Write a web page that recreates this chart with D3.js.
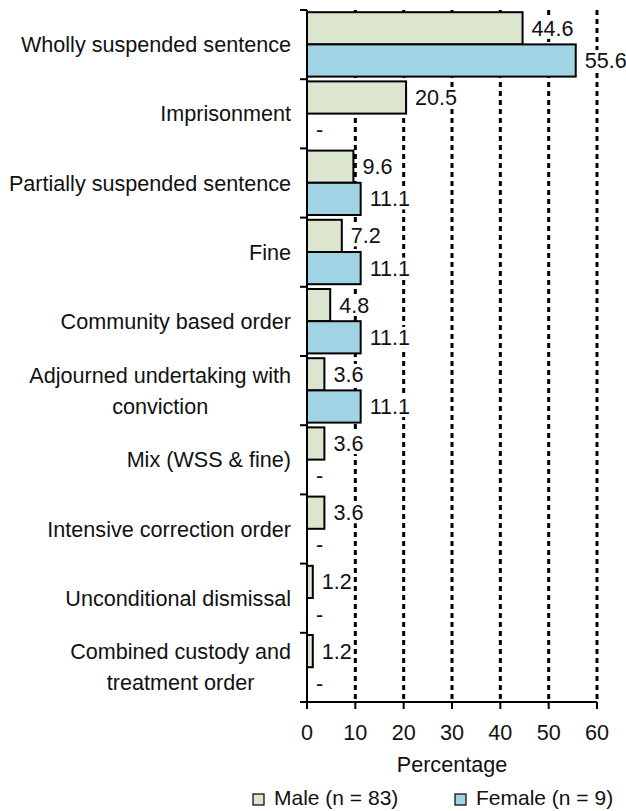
<!DOCTYPE html>
<html>
<head>
<meta charset="utf-8">
<script src="https://cdn.jsdelivr.net/npm/d3@7"></script>
<style>
  body { margin: 0; background: #fff; }
  svg text { font-family: "Liberation Sans", Arial, sans-serif; fill: #111; }
</style>
</head>
<body>
<svg id="chart" width="626" height="811"></svg>
<script>
const categories = [
  ["Wholly suspended sentence"],
  ["Imprisonment"],
  ["Partially suspended sentence"],
  ["Fine"],
  ["Community based order"],
  ["Adjourned undertaking with", "conviction"],
  ["Mix (WSS & fine)"],
  ["Intensive correction order"],
  ["Unconditional dismissal"],
  ["Combined custody and", "treatment order"]
];
const maleValues = [44.6, 20.5, 9.6, 7.2, 4.8, 3.6, 3.6, 3.6, 1.2, 1.2];
const femaleValues = [55.6, null, 11.1, 11.1, 11.1, 11.1, null, null, null, null];
const seriesNames = ["Male (n = 83)", "Female (n = 9)"];
const seriesColors = ["#dce5cd", "#a0d4e4"];
const xTicks = [0, 10, 20, 30, 40, 50, 60];
const xTitle = "Percentage";

const svg = d3.select("#chart");
const pLeft = 307, pRight = 597, pTop = 10, pBottom = 702;
const fs = 21.6;

const x = d3.scaleLinear().domain([0, 60]).range([pLeft, pRight]);
const y = d3.scaleBand().domain(d3.range(categories.length)).range([pTop, pBottom]).padding(0);
const ySub = d3.scaleBand().domain([0, 1]).range([2.2, y.bandwidth() - 2.6]).padding(0);

// grid lines
svg.append("g").selectAll("line").data(xTicks.filter(d => d > 0)).join("line")
  .attr("x1", d => x(d)).attr("x2", d => x(d))
  .attr("y1", pTop).attr("y2", pBottom)
  .attr("stroke", "#000").attr("stroke-width", 3)
  .attr("stroke-dasharray", "5,4");

const series = [maleValues, femaleValues];
const rows = [];
categories.forEach((c, i) => series.forEach((vals, s) => rows.push({ i, s, v: vals[i] })));

// bars
svg.append("g").selectAll("rect").data(rows.filter(r => r.v != null)).join("rect")
  .attr("x", x(0))
  .attr("y", r => y(r.i) + ySub(r.s))
  .attr("width", r => x(r.v) - x(0))
  .attr("height", ySub.bandwidth())
  .attr("fill", r => seriesColors[r.s])
  .attr("stroke", "#000").attr("stroke-width", 2);

// value labels with white backgrounds
const lg = svg.append("g").selectAll("g").data(rows).join("g");
const lt = lg.append("text")
  .attr("x", r => x(r.v == null ? 0 : r.v) + 9)
  .attr("y", r => y(r.i) + ySub(r.s) + ySub.bandwidth() / 2)
  .attr("dy", "0.35em")
  .attr("font-size", fs)
  .text(r => r.v == null ? "-" : r.v.toFixed(1));
lt.each(function () {
  const b = this.getBBox();
  d3.select(this.parentNode).insert("rect", "text")
    .attr("x", b.x).attr("y", b.y + 2).attr("width", b.width).attr("height", b.height - 4)
    .attr("fill", "#fff");
});

// left axis
const gy = svg.append("g");
gy.append("line").attr("x1", pLeft).attr("x2", pLeft).attr("y1", pTop).attr("y2", pBottom)
  .attr("stroke", "#000").attr("stroke-width", 2);
gy.selectAll("line.tk").data(d3.range(categories.length)).join("line").attr("class", "tk")
  .attr("x1", pLeft - 7).attr("x2", pLeft)
  .attr("y1", i => y(i)).attr("y2", i => y(i))
  .attr("stroke", "#000").attr("stroke-width", 2);

// category labels
const lab = svg.append("g").selectAll("text").data(categories).join("text")
  .attr("font-size", fs)
  .attr("text-anchor", d => d.length > 1 ? "middle" : "end")
  .attr("transform", (d, i) => `translate(${pLeft - 16},${y(i) + y.bandwidth() / 2})`);
lab.each(function (d) {
  const t = d3.select(this);
  if (d.length === 1) {
    t.append("tspan").attr("x", 0).attr("y", 0).attr("dy", "0.35em").text(d[0]);
  } else {
    const tmp = t.append("tspan").text(d[0]);
    const w = Math.max(...d.map(s => { tmp.text(s); return tmp.node().getComputedTextLength(); }));
    tmp.remove();
    d.forEach((s, k) => {
      t.append("tspan").attr("x", -w / 2).attr("y", (k - (d.length - 1) / 2) * 31)
        .attr("dy", "0.35em").text(s);
    });
  }
});

// bottom axis
const gx = svg.append("g");
gx.append("line").attr("x1", pLeft - 7).attr("x2", pRight).attr("y1", pBottom).attr("y2", pBottom)
  .attr("stroke", "#000").attr("stroke-width", 2);
gx.selectAll("line.tk").data(xTicks).join("line").attr("class", "tk")
  .attr("x1", d => x(d)).attr("x2", d => x(d))
  .attr("y1", pBottom).attr("y2", pBottom + 7)
  .attr("stroke", "#000").attr("stroke-width", 2);
gx.selectAll("text").data(xTicks).join("text")
  .attr("x", d => x(d)).attr("y", 740)
  .attr("text-anchor", "middle").attr("font-size", fs)
  .text(d => d);

svg.append("text").attr("x", x(30)).attr("y", 772)
  .attr("text-anchor", "middle").attr("font-size", fs).text(xTitle);

// legend
const legX = [253, 455];
const leg = svg.append("g").selectAll("g").data(seriesNames).join("g")
  .attr("transform", (d, i) => `translate(${legX[i]},794)`);
leg.append("rect").attr("width", 11).attr("height", 11)
  .attr("fill", (d, i) => seriesColors[i]).attr("stroke", "#000").attr("stroke-width", 1.2);
leg.append("text").attr("x", 21).attr("y", 11).attr("font-size", 21).text(d => d);
</script>
</body>
</html>
